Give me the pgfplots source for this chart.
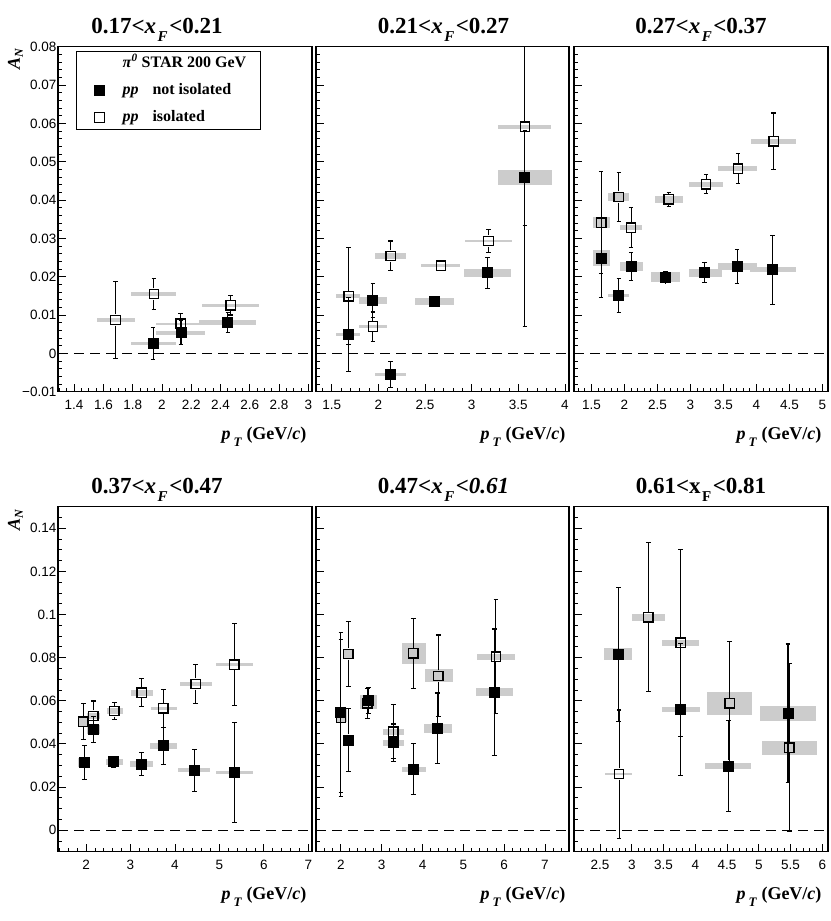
\documentclass[border=0pt]{standalone}
\usepackage{fontspec}
\setmainfont{Liberation Serif}
\newfontfamily\arialfont{Liberation Sans}
\usepackage{pgfplots}
\pgfplotsset{compat=1.18}
\definecolor{sysgray}{RGB}{204,204,204}
\newcommand{\sys}[4]{\addplot[fill=sysgray,draw=none,forget plot] coordinates {(#1,#3) (#2,#3) (#2,#4) (#1,#4)} --cycle;}
\pgfplotsset{
  error bars/draw error bar/.code 2 args={%
    \draw[black, line width=1.1pt, shorten <=5.6pt] #1 -- #2;
    \draw[black, line width=1.1pt] #2 ++(-2.3pt,0pt) -- ++(4.6pt,0pt);
  },
  myerr/.style={error bars/.cd, y dir=both, y explicit},
  filled/.style={only marks, mark=square*, mark size=5pt, mark options={draw=black,fill=black,line width=0.8pt}, myerr},
  open/.style={only marks, mark=square, mark size=4.7pt, mark options={draw=black,fill=none,line width=1.3pt}, myerr},
  filledN/.style={only marks, mark=square*, mark size=5pt, mark options={draw=black,fill=black,line width=0.8pt}, forget plot},
  openN/.style={only marks, mark=square, mark size=4.7pt, mark options={draw=black,fill=none,line width=1.3pt}, forget plot},
  zero/.style={black, line width=1pt, dash pattern=on 10pt off 6pt, forget plot},
  panel/.style={height=345pt, scale only axis, anchor=south west, tick pos=left,
    major tick length=8pt, minor tick length=4pt,
    every tick/.style={black, line width=0.8pt},
    axis line style={line width=1.3pt},
    scaled y ticks=false, scaled x ticks=false,
    ticklabel style={font=\arialfont\fontsize{13.5}{14}\selectfont},
    xticklabel style={yshift=-5pt},
    yticklabel style={inner xsep=1.5pt},
    clip=true},
  toprow/.style={ymin=-0.01, ymax=0.08,
    ytick={-0.01,0,0.01,0.02,0.03,0.04,0.05,0.06,0.07,0.08},
    minor ytick={-0.01,-0.008,...,0.08}, yticklabels={}},
  botrow/.style={ymin=-0.01, ymax=0.15,
    ytick={0,0.02,0.04,0.06,0.08,0.1,0.12,0.14},
    minor ytick={-0.01,-0.005,...,0.15}, yticklabels={}},
}
\newcommand{\ttl}[3]{\fontsize{23}{26}\selectfont\bfseries #1<#2\hspace{1.5pt}\raisebox{-8pt}{\fontsize{15}{15}\selectfont #3}\hspace{1.5pt}}
\newcommand{\xlab}{\fontsize{18}{20}\selectfont\bfseries\itshape p\hspace{3pt}\raisebox{-7pt}{\fontsize{13}{13}\selectfont T}\hspace{5pt}\upshape(GeV/\textit{c})}
\newcommand{\ylab}{\fontsize{18}{20}\selectfont\bfseries\itshape A\raisebox{-3pt}{\fontsize{12}{12}\selectfont N}}
\begin{document}
\begin{tikzpicture}
\useasboundingbox (0,0) rectangle (830pt,921pt);
% ---------------- Panel 1
\begin{axis}[panel, toprow, at={(58pt,529.3pt)}, width=254pt,
  xmin=1.29, xmax=3.025,
  xtick={1.4,1.6,1.8,2,2.2,2.4,2.6,2.8,3}, xticklabels={1.4,1.6,1.8,2,2.2,2.4,2.6,2.8,3},
  minor xtick={1.3,1.35,...,3.0},
  yticklabels={−0.01,0,0.01,0.02,0.03,0.04,0.05,0.06,0.07,0.08},
  legend cell align=left,
  legend image code/.code={\path[draw=none,fill=none] (-8.5pt,0pt) -- (8.5pt,0pt); \draw[#1] plot coordinates {(0pt,0pt)};},
  legend style={at={(rel axis cs:0.0709,0.9875)}, anchor=north west, draw=black, line width=1pt, fill=white,
    inner xsep=14.5pt, inner ysep=4pt, row sep=11pt,
    font=\fontsize{16}{18}\selectfont\bfseries,
    nodes={inner sep=0pt, text height=12pt, text depth=4pt},
    /tikz/every odd column/.append style={column sep=14.5pt}},
]
\sys{1.786}{2.093}{0.00225}{0.00295}
\sys{1.961}{2.292}{0.0049}{0.0059}
\sys{2.253}{2.640}{0.00745}{0.00875}
\sys{1.554}{1.813}{0.0081}{0.0093}
\sys{1.79}{2.098}{0.0149}{0.0161}
\sys{1.961}{2.292}{0.00735}{0.00805}
\sys{2.276}{2.663}{0.01215}{0.01285}
\addplot[zero] coordinates {(1.29,0) (3.025,0)};
\addlegendimage{empty legend}
\addlegendentry{\textit{π}\textsuperscript{\textit{0}} STAR 200 GeV}
\addplot[filled] coordinates {(1.94,0.0026) +- (0,0.0042) (2.13,0.0054) +- (0,0.0032) (2.45,0.0081) +- (0,0.0026)};
\addlegendentry{\textit{pp}\hspace{14pt}not isolated}
\addplot[open] coordinates {(1.683,0.0087) +- (0,0.0100) (1.945,0.0155) +- (0,0.0040) (2.128,0.0077) +- (0,0.0028) (2.469,0.0125) +- (0,0.0025)};
\addlegendentry{\textit{pp}\hspace{14pt}isolated}
\end{axis}
% ---------------- Panel 2
\begin{axis}[panel, toprow, at={(316pt,529.3pt)}, width=253pt,
  xmin=1.33, xmax=4.043,
  xtick={1.5,2,2.5,3,3.5,4}, xticklabels={1.5,2,2.5,3,3.5,4},
  minor xtick={1.4,1.5,...,4.0}]
\sys{1.546}{1.807}{0.0044}{0.0054}
\sys{1.786}{2.093}{0.0129}{0.0147}
\sys{1.964}{2.30}{-0.0060}{-0.0052}
\sys{2.396}{2.814}{0.0127}{0.0145}
\sys{2.914}{3.421}{0.0199}{0.0221}
\sys{3.286}{3.857}{0.0438}{0.0478}
\sys{1.546}{1.807}{0.0144}{0.0154}
\sys{1.796}{2.093}{0.0067}{0.0073}
\sys{1.964}{2.30}{0.0247}{0.0261}
\sys{2.457}{2.879}{0.0224}{0.0234}
\sys{2.929}{3.432}{0.02895}{0.02965}
\sys{3.286}{3.85}{0.0586}{0.0596}
\addplot[zero] coordinates {(1.33,0) (4.043,0)};
\addplot[filled] coordinates {(1.68,0.0049) +- (0,0.0097) (1.94,0.0138) +- (0,0.0045) (2.13,-0.0056) +- (0,0.0034) (3.17,0.0210) +- (0,0.0040) (3.57,0.0458) +- (0,0.0124)};
\addplot[filledN] coordinates {(2.60,0.0136)};
\addplot[open] coordinates {(1.68,0.0149) +- (0,0.0126) (1.94,0.0070) +- (0,0.0038) (2.13,0.0254) +- (0,0.0039) (3.18,0.0293) +- (0,0.0030) (3.57,0.0591) +- (0,0.052)};
\addplot[openN] coordinates {(2.67,0.0229)};
\end{axis}
% ---------------- Panel 3
\begin{axis}[panel, toprow, at={(574pt,529.3pt)}, width=254pt,
  xmin=1.235, xmax=5.085,
  xtick={1.5,2,2.5,3,3.5,4,4.5,5}, xticklabels={1.5,2,2.5,3,3.5,4,4.5,5},
  minor xtick={1.3,1.4,...,5.0}]
\sys{1.52}{1.788}{0.0228}{0.0270}
\sys{1.753}{2.066}{0.0146}{0.0156}
\sys{1.929}{2.283}{0.0216}{0.0238}
\sys{2.409}{2.838}{0.0187}{0.0211}
\sys{2.975}{3.48}{0.0199}{0.0221}
\sys{3.414}{4.01}{0.0218}{0.0236}
\sys{3.909}{4.606}{0.0212}{0.0224}
\sys{1.52}{1.777}{0.0327}{0.0355}
\sys{1.753}{2.066}{0.0398}{0.0418}
\sys{1.929}{2.268}{0.0322}{0.0334}
\sys{2.459}{2.889}{0.0393}{0.0411}
\sys{2.975}{3.495}{0.0434}{0.0448}
\sys{3.414}{4.01}{0.0476}{0.0488}
\sys{3.92}{4.606}{0.0547}{0.0559}
\addplot[zero] coordinates {(1.235,0) (5.085,0)};
\addplot[filled] coordinates {(1.647,0.0249) +- (0,0.0103) (1.914,0.0151) +- (0,0.0045) (2.101,0.0227) +- (0,0.0036) (2.621,0.0199) +- (0,0.0015) (3.217,0.0210) +- (0,0.0026) (3.707,0.0227) +- (0,0.0045) (4.247,0.0218) +- (0,0.0090)};
\addplot[open] coordinates {(1.647,0.0341) +- (0,0.0133) (1.914,0.0408) +- (0,0.0064) (2.101,0.0328) +- (0,0.0053) (2.672,0.0402) +- (0,0.0018) (3.237,0.0441) +- (0,0.0025) (3.722,0.0482) +- (0,0.0039) (4.262,0.0553) +- (0,0.0074)};
\end{axis}
% ---------------- Panel 4
\begin{axis}[panel, botrow, at={(58pt,69.3pt)}, width=254pt,
  xmin=1.37, xmax=7.083,
  xtick={2,3,4,5,6,7}, xticklabels={2,3,4,5,6,7},
  minor xtick={1.4,1.6,...,7.0},
  yticklabels={0,0.02,0.04,0.06,0.08,0.1,0.12,0.14}]
\sys{1.828}{2.09}{0.0293}{0.0333}
\sys{2.03}{2.315}{0.0447}{0.0487}
\sys{2.45}{2.825}{0.0304}{0.0330}
\sys{2.99}{3.5}{0.0293}{0.0319}
\sys{3.439}{4.039}{0.0376}{0.0406}
\sys{4.076}{4.789}{0.0270}{0.0286}
\sys{4.924}{5.748}{0.0260}{0.0276}
\sys{1.828}{2.075}{0.0483}{0.0523}
\sys{2.03}{2.315}{0.0514}{0.0544}
\sys{2.48}{2.825}{0.0537}{0.0567}
\sys{3.004}{3.5}{0.0622}{0.0652}
\sys{3.454}{4.039}{0.0557}{0.0573}
\sys{4.114}{4.826}{0.0670}{0.0686}
\sys{4.924}{5.763}{0.0759}{0.0775}
\addplot[zero] coordinates {(1.37,0) (7.083,0)};
\addplot[filled] coordinates {(1.963,0.0313) +- (0,0.0079) (2.165,0.0467) +- (0,0.0060) (2.615,0.0317) +- (0,0.0025) (3.252,0.0306) +- (0,0.0052) (3.739,0.0391) +- (0,0.0087) (4.436,0.0278) +- (0,0.0097) (5.336,0.0268) +- (0,0.0232)};
\addplot[open] coordinates {(1.94,0.0503) +- (0,0.0084) (2.165,0.0529) +- (0,0.0070) (2.637,0.0552) +- (0,0.0040) (3.252,0.0637) +- (0,0.0065) (3.739,0.0565) +- (0,0.0088) (4.466,0.0678) +- (0,0.0090) (5.336,0.0767) +- (0,0.0190)};
\end{axis}
% ---------------- Panel 5
\begin{axis}[panel, botrow, at={(316pt,69.3pt)}, width=253pt,
  xmin=1.39, xmax=7.59,
  xtick={2,3,4,5,6,7}, xticklabels={2,3,4,5,6,7},
  minor xtick={1.4,1.6,...,7.4}]
\sys{1.869}{2.139}{0.0525}{0.0565}
\sys{2.041}{2.327}{0.0403}{0.0433}
\sys{2.466}{2.891}{0.0575}{0.0625}
\sys{3.021}{3.544}{0.0390}{0.0420}
\sys{3.487}{4.075}{0.0271}{0.0295}
\sys{4.034}{4.729}{0.0452}{0.0492}
\sys{5.301}{6.224}{0.0621}{0.0657}
\sys{1.869}{2.139}{0.0502}{0.0542}
\sys{2.057}{2.302}{0.0797}{0.0837}
\sys{2.466}{2.891}{0.0563}{0.0613}
\sys{3.021}{3.544}{0.0441}{0.0471}
\sys{3.487}{4.075}{0.0770}{0.0870}
\sys{4.059}{4.737}{0.0685}{0.0745}
\sys{5.342}{6.265}{0.0791}{0.0817}
\addplot[zero] coordinates {(1.39,0) (7.59,0)};
\addplot[filled] coordinates {(2.0,0.0545) +- (0,0.0370) (2.18,0.0418) +- (0,0.0147) (2.67,0.0600) +- (0,0.0060) (3.283,0.0405) +- (0,0.0087) (3.773,0.0283) +- (0,0.0118) (4.361,0.0472) +- (0,0.0164) (5.758,0.0639) +- (0,0.0294)};
\addplot[open] coordinates {(2.0,0.0522) +- (0,0.0364) (2.18,0.0817) +- (0,0.0150) (2.645,0.0588) +- (0,0.0070) (3.283,0.0456) +- (0,0.0125) (3.773,0.0820) +- (0,0.0163) (4.386,0.0715) +- (0,0.0190) (5.799,0.0804) +- (0,0.0265)};
\end{axis}
% ---------------- Panel 6
\begin{axis}[panel, botrow, at={(574pt,69.3pt)}, width=254pt,
  xmin=2.09, xmax=6.09,
  xtick={2.5,3,3.5,4,4.5,5,5.5,6}, xticklabels={2.5,3,3.5,4,4.5,5,5.5,6},
  minor xtick={2.1,2.2,...,6.0}]
\sys{2.56}{3.01}{0.0787}{0.0843}
\sys{3.47}{4.07}{0.0548}{0.0572}
\sys{4.15}{4.87}{0.0282}{0.0312}
\sys{5.02}{5.90}{0.0506}{0.0576}
\sys{2.58}{3.01}{0.0254}{0.0266}
\sys{3.01}{3.53}{0.0972}{0.1002}
\sys{3.47}{4.06}{0.0854}{0.0884}
\sys{4.18}{4.90}{0.0536}{0.0640}
\sys{5.05}{5.92}{0.0349}{0.0415}
\addplot[zero] coordinates {(2.09,0) (6.09,0)};
\addplot[filled] coordinates {(2.79,0.0815) +- (0,0.0310) (3.77,0.0560) +- (0,0.0305) (4.52,0.0297) +- (0,0.0210) (5.46,0.0541) +- (0,0.0322)};
\addplot[open] coordinates {(2.80,0.0260) +- (0,0.0297) (3.26,0.0987) +- (0,0.0345) (3.77,0.0869) +- (0,0.0434) (4.54,0.0588) +- (0,0.0286) (5.48,0.0382) +- (0,0.0390)};
\end{axis}
% ---------------- titles and labels
\node[anchor=base] at (157pt,887.7pt) {\ttl{0.17}{\textit{x}}{\textit{F}}<0.21};
\node[anchor=base] at (443.5pt,887.7pt) {\ttl{0.21}{\textit{x}}{\textit{F}}<0.27};
\node[anchor=base] at (701pt,887.7pt) {\ttl{0.27}{\textit{x}}{\textit{F}}<0.37};
\node[anchor=base] at (157pt,427.7pt) {\ttl{0.37}{\textit{x}}{\textit{F}}<0.47};
\node[anchor=base] at (443.5pt,427.7pt) {\ttl{0.47}{\textit{x}}{\textit{F}}\textit{<0.61}};
\node[anchor=base] at (701pt,427.7pt) {\ttl{0.61}{x}{F}<0.81};
\node[anchor=base east] at (310pt,481pt) {\xlab};
\node[anchor=base east] at (569pt,481pt) {\xlab};
\node[anchor=base east] at (825pt,481pt) {\xlab};
\node[anchor=base east] at (310pt,21pt) {\xlab};
\node[anchor=base east] at (569pt,21pt) {\xlab};
\node[anchor=base east] at (825pt,21pt) {\xlab};
\node[rotate=90, anchor=base east] at (20pt,876pt) {\ylab};
\node[rotate=90, anchor=base east] at (20pt,415pt) {\ylab};
\end{tikzpicture}
\end{document}
